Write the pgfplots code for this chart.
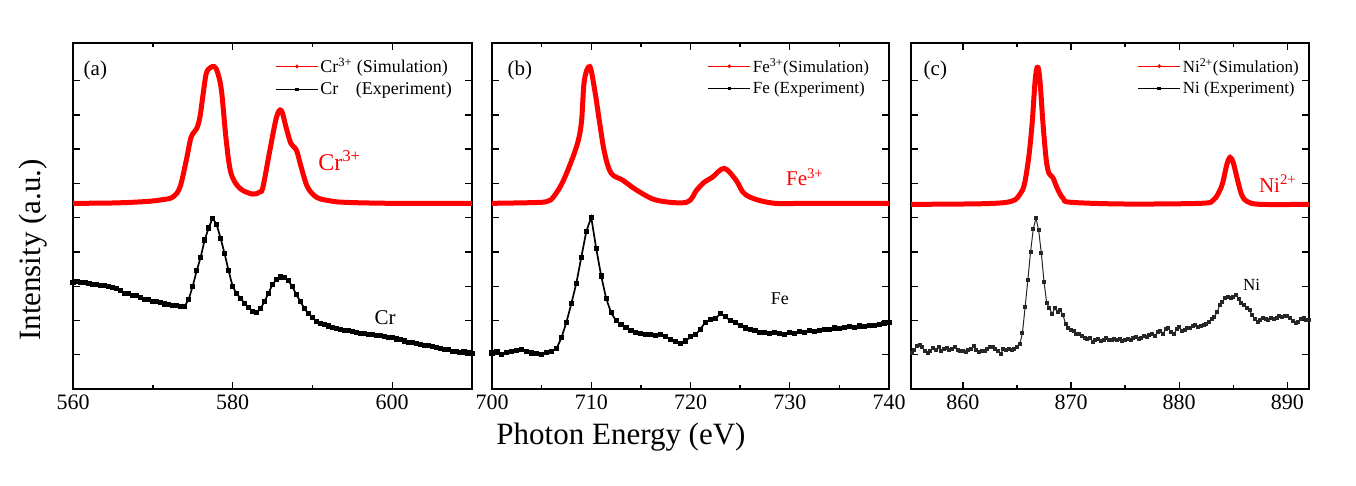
\documentclass[border=0pt]{standalone}
\usepackage{fontspec}
\setmainfont{Liberation Serif}
\usepackage{pgfplots}
\pgfplotsset{compat=1.18}
\pgfplotsset{
  panel/.style={
    scale only axis, height=346pt, ymin=0, ymax=10.1,
    ytick={1,...,9}, yticklabels={},
    tick align=inside, xtick pos=both, ytick pos=both,
    axis line style={line width=2.4pt},
    major tick length=7pt, minor tick length=4pt,
    every tick/.style={line width=1.4pt, black},
    minor x tick num=1,
    ticklabel style={font=\fontsize{22}{25}\selectfont},
    xticklabel style={yshift=-2pt},
    /pgf/number format/assume math mode=true,
    /pgf/number format/set thousands separator={},
    legend style={draw=none, fill=none, inner sep=0pt, cells={anchor=west}, row sep=4pt},
    legend image code/.code={\draw[##1,mark repeat=2,mark phase=2] plot coordinates {(0pt,0pt) (21pt,0pt) (42pt,0pt)};},
  },
  sim/.style={red, line width=5pt, smooth, tension=0.55, no markers, forget plot},
  exp/.style={black, line width=1.7pt, mark=square*, mark size=1.7pt, forget plot},
  legsim/.style={red, line width=1pt, mark=*, mark size=1.3pt},
  legexp/.style={black, line width=1pt, mark=square*, mark size=1.3pt},
}
\begin{document}
\begin{tikzpicture}
\useasboundingbox (0,0) rectangle (1356pt,485pt);
% ---------------- (a) Cr
\begin{axis}[panel, at={(73pt,96pt)}, anchor=south west, width=399pt,
  xmin=560, xmax=610, xtick={560,580,600},
  legend style={at={(0.955,0.962)}, anchor=north east, font=\fontsize{18}{21}\selectfont}]
\addlegendimage{legsim}\addlegendentry{Cr\textsuperscript{3+} (Simulation)}
\addlegendimage{legexp}\addlegendentry{Cr\hspace{13pt} (Experiment)}
\addplot[sim] coordinates {(560,5.42) (565,5.43) (569,5.47) (571,5.52) (572.5,5.6) (573.4,5.89) (574.2,6.68) (574.8,7.35) (575.5,7.6) (575.9,7.93) (576.3,8.6) (576.7,9.21) (577.2,9.38) (577.7,9.41) (578.1,9.25) (578.6,8.72) (579.2,7.26) (579.8,6.3) (580.9,5.86) (582.5,5.69) (583.4,5.75) (583.8,5.89) (584.6,6.88) (585.5,7.93) (586.1,8.13) (586.7,7.64) (587.3,7.17) (588,6.97) (588.6,6.47) (589.4,5.89) (590.5,5.6) (592,5.5) (594,5.45) (600,5.42) (610,5.42)};
\addplot[exp] coordinates {(560,3.12) (560.5,3.13) (561,3.10) (561.5,3.11) (562,3.08) (562.5,3.06) (563,3.05) (563.5,3.02) (564,3.03) (564.5,2.98) (565,2.95) (565.5,2.93) (566,2.88) (566.5,2.80) (567,2.78) (567.5,2.74) (568,2.72) (568.5,2.68) (569,2.62) (569.5,2.60) (570,2.56) (570.5,2.55) (571,2.52) (571.5,2.48) (572,2.47) (572.5,2.45) (573,2.43) (573.5,2.40) (574,2.42) (574.5,2.62) (575,3.0) (575.5,3.45) (576,3.85) (576.5,4.35) (577,4.7) (577.5,4.99) (578,4.8) (578.5,4.4) (579,3.95) (579.5,3.45) (580,3.0) (580.5,2.78) (581,2.65) (581.5,2.5) (582,2.38) (582.5,2.27) (583,2.22) (583.5,2.35) (584,2.55) (584.5,2.8) (585,3.05) (585.5,3.2) (586,3.27) (586.5,3.25) (587,3.16) (587.5,2.98) (588,2.75) (588.5,2.55) (589,2.35) (589.5,2.2) (590,2.08) (590.5,1.98) (591,1.92) (591.5,1.88) (592,1.84) (592.5,1.80) (593,1.77) (593.5,1.75) (594,1.71) (594.5,1.70) (595,1.67) (595.5,1.66) (596,1.63) (596.5,1.62) (597,1.60) (597.5,1.58) (598,1.57) (598.5,1.55) (599,1.52) (599.5,1.51) (600,1.50) (600.5,1.46) (601,1.45) (601.5,1.40) (602,1.37) (602.5,1.36) (603,1.33) (603.5,1.31) (604,1.28) (604.5,1.26) (605,1.24) (605.5,1.20) (606,1.18) (606.5,1.15) (607,1.14) (607.5,1.10) (608,1.09) (608.5,1.07) (609,1.08) (609.5,1.05) (610,1.04)};
\node[font=\fontsize{21}{24}\selectfont] at (axis cs:562.8,9.3) {(a)};
\node[red, font=\fontsize{24}{28}\selectfont] at (axis cs:593.4,6.68) {Cr\textsuperscript{3+}};
\node[font=\fontsize{21}{24}\selectfont] at (axis cs:599.1,2.07) {Cr};
\end{axis}
% ---------------- (b) Fe
\begin{axis}[panel, at={(492pt,96pt)}, anchor=south west, width=397pt,
  xmin=700, xmax=740, xtick={700,710,720,730,740},
  legend style={at={(0.955,0.962)}, anchor=north east, font=\fontsize{17}{20}\selectfont}]
\addlegendimage{legsim}\addlegendentry{Fe\textsuperscript{3+}(Simulation)}
\addlegendimage{legexp}\addlegendentry{Fe (Experiment)}
\addplot[sim] coordinates {(700,5.42) (704,5.44) (705.5,5.47) (706.2,5.61) (707.2,6.09) (708.5,7.06) (709.0,7.76) (709.3,9.0) (709.85,9.41) (710.35,8.72) (710.85,7.76) (711.35,6.88) (712.0,6.3) (713.2,6.09) (714.6,5.8) (716.6,5.51) (719.6,5.45) (720.6,5.8) (721.4,6.04) (722.2,6.18) (723.4,6.44) (724.6,6.09) (725.6,5.66) (728.2,5.43) (732,5.42) (740,5.42)};
\addplot[exp] coordinates {(700,1.05) (700.5,1.08) (701,1.02) (701.5,1.06) (702,1.10) (702.5,1.12) (703,1.14) (703.5,1.10) (704,1.05) (704.5,1.04) (705,1.02) (705.5,1.07) (706,1.10) (706.5,1.18) (707,1.5) (707.5,1.95) (708,2.5) (708.5,3.09) (709,3.85) (709.5,4.6) (710,5.01) (710.5,4.1) (711,3.3) (711.5,2.65) (712,2.22) (712.5,2.0) (713,1.88) (713.5,1.80) (714,1.72) (714.5,1.66) (715,1.62) (715.5,1.58) (716,1.60) (716.5,1.56) (717,1.58) (717.5,1.53) (718,1.45) (718.5,1.38) (719,1.34) (719.5,1.40) (720,1.52) (720.5,1.58) (721,1.75) (721.5,1.95) (722,2.02) (722.5,2.05) (723,2.20) (723.5,2.12) (724,2.0) (724.5,1.95) (725,1.85) (725.5,1.78) (726,1.73) (726.5,1.70) (727,1.66) (727.5,1.65) (728,1.62) (728.5,1.64) (729,1.63) (729.5,1.60) (730,1.66) (730.5,1.62) (731,1.67) (731.5,1.65) (732,1.70) (732.5,1.68) (733,1.72) (733.5,1.75) (734,1.73) (734.5,1.78) (735,1.77) (735.5,1.80) (736,1.82) (736.5,1.80) (737,1.84) (737.5,1.83) (738,1.86) (738.5,1.85) (739,1.88) (739.5,1.92) (740,1.94)};
\node[font=\fontsize{21}{24}\selectfont] at (axis cs:702.8,9.3) {(b)};
\node[red, font=\fontsize{21}{24}\selectfont] at (axis cs:731.5,6.18) {Fe\textsuperscript{3+}};
\node[font=\fontsize{18}{21}\selectfont] at (axis cs:729.0,2.65) {Fe};
\end{axis}
% ---------------- (c) Ni
\begin{axis}[panel, at={(911pt,96pt)}, anchor=south west, width=398pt,
  xmin=855.2, xmax=892, xtick={860,870,880,890},
  legend style={at={(0.98,0.962)}, anchor=north east, font=\fontsize{17}{20}\selectfont}]
\addlegendimage{legsim}\addlegendentry{Ni\textsuperscript{2+}(Simulation)}
\addlegendimage{legexp}\addlegendentry{Ni (Experiment)}
\addplot[sim] coordinates {(855.2,5.39) (862,5.41) (864.5,5.48) (865.3,5.7) (865.7,6.0) (866.1,6.8) (866.4,7.76) (866.65,8.9) (866.8,9.32) (866.9,9.39) (867.0,9.32) (867.15,8.9) (867.4,7.76) (867.7,6.7) (867.95,6.3) (868.3,6.18) (868.6,5.95) (868.8,5.8) (869.3,5.55) (870,5.45) (875,5.4) (882,5.42) (883.1,5.5) (883.6,5.7) (884,6.0) (884.4,6.55) (884.7,6.76) (885.0,6.6) (885.4,6.09) (885.8,5.65) (886.3,5.47) (887.5,5.39) (892,5.39)};
\addplot[exp, black!85, line width=1pt, mark size=1.5pt] coordinates {(855.25,1.05) (855.5,1.15) (855.75,1.25) (856.0,1.28) (856.25,1.22) (856.5,1.10) (856.75,1.05) (857.0,1.12) (857.25,1.20) (857.5,1.15) (857.75,1.22) (858.0,1.12) (858.25,1.18) (858.5,1.20) (858.75,1.14) (859.0,1.18) (859.25,1.22) (859.5,1.15) (859.75,1.12) (860.0,1.10) (860.25,1.08) (860.5,1.14) (860.75,1.18) (861.0,1.26) (861.25,1.14) (861.5,1.08) (861.75,1.12) (862.0,1.10) (862.25,1.18) (862.5,1.22) (862.75,1.24) (863.0,1.16) (863.25,1.12) (863.5,1.02) (863.75,1.18) (864.0,1.14) (864.25,1.16) (864.5,1.15) (864.75,1.18) (865.0,1.22) (865.25,1.30) (865.5,1.63) (865.75,2.39) (866.0,3.18) (866.25,3.99) (866.5,4.66) (866.75,4.99) (867.0,4.64) (867.25,3.96) (867.5,3.12) (867.75,2.51) (868.0,2.35) (868.25,2.20) (868.5,2.35) (868.75,2.25) (869.0,2.30) (869.25,2.16) (869.5,1.90) (869.75,1.78) (870.0,1.72) (870.25,1.70) (870.5,1.60) (870.75,1.62) (871.0,1.55) (871.25,1.50) (871.5,1.45) (871.75,1.48) (872.0,1.38) (872.25,1.42) (872.5,1.46) (872.75,1.40) (873.0,1.44) (873.25,1.48) (873.5,1.42) (873.75,1.44) (874.0,1.46) (874.25,1.42) (874.5,1.45) (874.75,1.40) (875.0,1.42) (875.25,1.46) (875.5,1.42) (875.75,1.48) (876.0,1.52) (876.25,1.46) (876.5,1.50) (876.75,1.55) (877.0,1.52) (877.25,1.58) (877.5,1.62) (877.75,1.56) (878.0,1.65) (878.25,1.70) (878.5,1.62) (878.75,1.74) (879.0,1.78) (879.25,1.66) (879.5,1.60) (879.75,1.75) (880.0,1.82) (880.25,1.70) (880.5,1.72) (880.75,1.78) (881.0,1.78) (881.25,1.84) (881.5,1.86) (881.75,1.80) (882.0,1.85) (882.25,1.88) (882.5,1.90) (882.75,1.95) (883.0,2.05) (883.25,2.10) (883.5,2.25) (883.75,2.45) (884.0,2.55) (884.25,2.66) (884.5,2.68) (884.75,2.66) (885.0,2.70) (885.25,2.75) (885.5,2.62) (885.75,2.50) (886.0,2.45) (886.25,2.36) (886.5,2.30) (886.75,2.15) (887.0,2.05) (887.25,1.95) (887.5,2.02) (887.75,2.08) (888.0,2.05) (888.25,2.02) (888.5,2.06) (888.75,2.04) (889.0,2.08) (889.25,2.12) (889.5,2.10) (889.75,2.14) (890.0,2.12) (890.25,2.08) (890.5,1.98) (890.75,1.92) (891.0,1.96) (891.25,2.05) (891.5,2.06) (891.75,2.02) (892.0,2.0)};
\node[font=\fontsize{21}{24}\selectfont] at (axis cs:857.45,9.3) {(c)};
\node[red, font=\fontsize{21}{24}\selectfont] at (axis cs:889.1,6.0) {Ni\textsuperscript{2+}};
\node[font=\fontsize{17}{20}\selectfont] at (axis cs:886.7,3.03) {Ni};
\end{axis}
\node[font=\fontsize{31}{36}\selectfont] at (621pt,48pt) {Photon Energy (eV)};
\node[rotate=90, font=\fontsize{31}{36}\selectfont] at (33pt,235pt) {Intensity (a.u.)};
\end{tikzpicture}
\end{document}
